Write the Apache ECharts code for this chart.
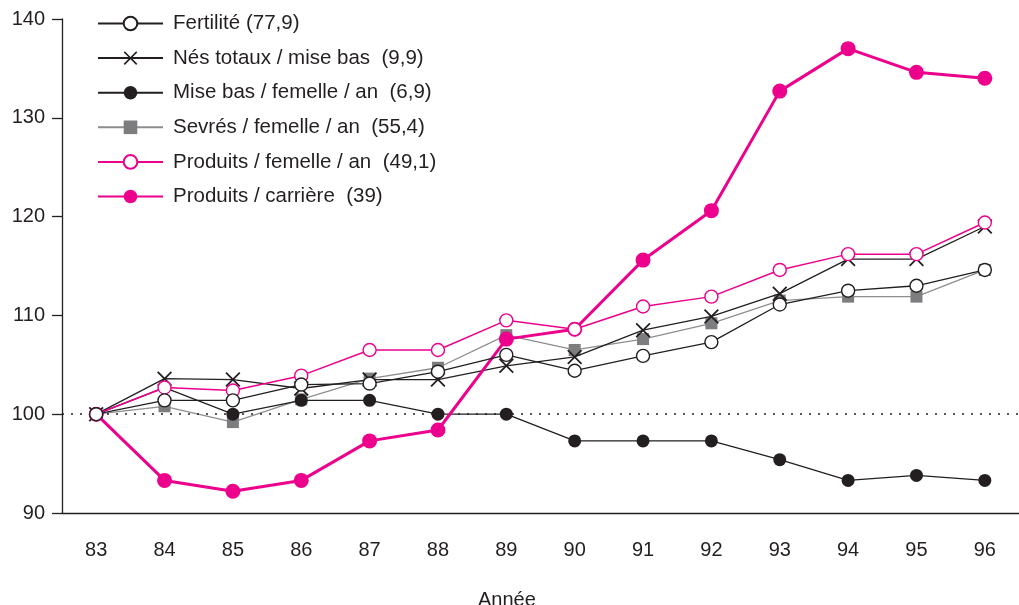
<!DOCTYPE html>
<html>
<head>
<meta charset="utf-8">
<title>Indices</title>
<script src="https://cdn.jsdelivr.net/npm/echarts@6.0.0/dist/echarts.min.js"></script>
<style>
  html, body { margin: 0; padding: 0; background: #fff; }
  #chart { width: 1019px; height: 605px; }
</style>
</head>
<body>
<div id="chart"></div>
<script>
// années (axe x) et graduations de l'axe y
const years = ['83', '84', '85', '86', '87', '88', '89', '90', '91', '92', '93', '94', '95', '96'];
const yTicks = [90, 100, 110, 120, 130, 140];

// indices base 100 en 83
const fertilite = [100, 101.4, 101.4, 103.0, 103.1, 104.3, 106.0, 104.4, 105.9, 107.3, 111.1, 112.5, 113.0, 114.6];
const nesTotaux = [100, 103.6, 103.5, 102.6, 103.5, 103.5, 104.9, 105.8, 108.5, 109.9, 112.2, 115.7, 115.7, 119.0];
const miseBas = [100, 102.7, 100, 101.4, 101.4, 100, 100, 97.3, 97.3, 97.3, 95.4, 93.3, 93.8, 93.3];
const sevres = [100, 100.8, 99.2, 101.5, 103.6, 104.7, 108.0, 106.5, 107.6, 109.2, 111.5, 111.9, 111.9, 114.6];
const produitsFemelle = [100, 102.7, 102.4, 103.9, 106.5, 106.5, 109.5, 108.6, 110.9, 111.9, 114.6, 116.2, 116.2, 119.4];
const produitsCarriere = [100, 93.3, 92.2, 93.3, 97.3, 98.4, 107.6, 108.6, 115.6, 120.6, 132.7, 137.0, 134.6, 134.0];

const names = [
  'Fertilité (77,9)',
  'Nés totaux / mise bas  (9,9)',
  'Mise bas / femelle / an  (6,9)',
  'Sevrés / femelle / an  (55,4)',
  'Produits / femelle / an  (49,1)',
  'Produits / carrière  (39)'
];

const ink = '#231f20';
const pink = '#ec008c';
const font = 'Liberation Sans, Arial, sans-serif';
// croix en polygone fin (un path ECharts est rempli)
const crossPath = 'path://M1,0 L6,5 L11,0 L12,1 L7,6 L12,11 L11,12 L6,7 L1,12 L0,11 L5,6 L0,1 Z';

const chart = echarts.init(document.getElementById('chart'));

function mkSeries(name, data, symbol, size, fill, border, lineColor, lineWidth, z) {
  return {
    name: name,
    type: 'line',
    data: data,
    symbol: symbol,
    symbolSize: size,
    showAllSymbol: true,
    z: z,
    itemStyle: { color: fill, borderColor: border, borderWidth: border ? 1.4 : 0 },
    lineStyle: { color: lineColor, width: lineWidth },
    emphasis: { disabled: true }
  };
}

const series = [
  mkSeries(names[3], sevres, 'rect', 12, '#7d7d80', null, '#8e8e90', 1.3, 2),
  mkSeries(names[2], miseBas, 'circle', 13, ink, null, ink, 1.3, 3),
  mkSeries(names[1], nesTotaux, crossPath, 15, ink, null, ink, 1.3, 4),
  mkSeries(names[5], produitsCarriere, 'circle', 15, pink, null, pink, 3, 5),
  mkSeries(names[4], produitsFemelle, 'circle', 13, '#fff', pink, pink, 1.5, 6),
  mkSeries(names[0], fertilite, 'circle', 13, '#fff', ink, ink, 1.3, 7)
];

// ligne pointillée à 100
series[0].markLine = {
  silent: true,
  symbol: 'none',
  label: { show: false },
  lineStyle: { color: ink, width: 1.5, type: [2, 7] },
  data: [{ yAxis: 100 }]
};

const option = {
  animation: false,
  backgroundColor: '#fff',
  textStyle: { fontFamily: font, color: ink },
  title: {
    text: 'Année',
    left: 473,
    top: 585,
    textStyle: { fontFamily: font, fontSize: 20, fontWeight: 'normal', color: ink }
  },
  legend: {
    orient: 'vertical',
    left: 97,
    top: 13,
    padding: 0,
    itemWidth: 65,
    itemHeight: 17,
    itemGap: 13.6,
    selectedMode: false,
    data: names,
    textStyle: { fontFamily: font, fontSize: 20.5, color: ink, padding: [0, 0, 0, 5], lineHeight: 20 }
  },
  grid: { left: 62, right: -15, top: 19, bottom: 92 },
  xAxis: {
    type: 'category',
    data: years,
    boundaryGap: true,
    axisLine: { lineStyle: { color: ink, width: 1.3 } },
    axisTick: { alignWithLabel: true, length: 11, lineStyle: { color: ink, width: 1.3 } },
    axisLabel: { fontFamily: font, fontSize: 20, color: ink, margin: 27 },
    splitLine: { show: false }
  },
  yAxis: {
    type: 'value',
    min: yTicks[0],
    max: yTicks[yTicks.length - 1],
    interval: 10,
    axisLine: { show: true, lineStyle: { color: ink, width: 1.3 } },
    axisTick: { show: true, length: 10, lineStyle: { color: ink, width: 1.3 } },
    axisLabel: { fontFamily: font, fontSize: 20, color: ink, margin: 17 },
    splitLine: { show: false }
  },
  series: series
};

chart.setOption(option);
</script>
</body>
</html>
